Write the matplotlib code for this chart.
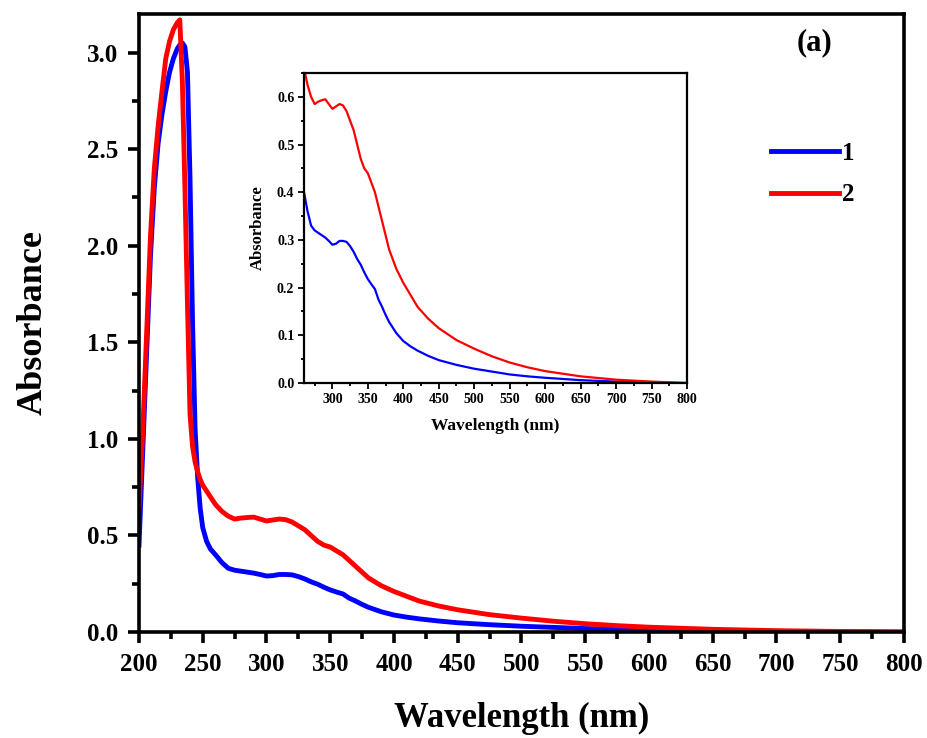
import numpy as np
import matplotlib
matplotlib.use('Agg')
import matplotlib.pyplot as plt
from matplotlib.ticker import MultipleLocator, FormatStrFormatter

# absorption spectra of samples 1 and 2
wavelength = [200, 203, 206, 209, 212, 215, 218, 221, 224, 227, 230, 232, 234,
              236, 238, 240, 242, 244, 246, 248, 250, 253, 256, 260, 265, 270,
              275, 280, 285, 290, 295, 300, 305, 310, 315, 320, 325, 330, 335,
              340, 345, 350, 355, 360, 365, 370, 375, 380, 390, 400, 410, 420,
              435, 450, 475, 500, 525, 550, 575, 600, 650, 700, 750, 800]

abs_1 = [0.45, 0.95, 1.45, 1.95, 2.30, 2.53, 2.68, 2.80, 2.90, 2.97, 3.02, 3.04, 3.05,
         3.03, 2.90, 2.35, 1.60, 1.05, 0.80, 0.64, 0.54, 0.47, 0.43, 0.40, 0.36, 0.33,
         0.32, 0.315, 0.31, 0.305, 0.298, 0.29, 0.292, 0.298, 0.298, 0.296, 0.287, 0.275, 0.26,
         0.248, 0.232, 0.218, 0.207, 0.197, 0.175, 0.16, 0.143, 0.128, 0.105, 0.088, 0.077, 0.068,
         0.057, 0.048, 0.038, 0.030, 0.024, 0.018, 0.014, 0.011, 0.006, 0.003, 0.001, 0.0]

abs_2 = [0.65, 1.05, 1.55, 2.05, 2.40, 2.62, 2.80, 2.97, 3.06, 3.12, 3.155, 3.17, 2.85,
         2.30, 1.70, 1.13, 0.96, 0.88, 0.83, 0.79, 0.76, 0.73, 0.70, 0.66, 0.625, 0.60,
         0.585, 0.59, 0.593, 0.595, 0.585, 0.575, 0.58, 0.585, 0.582, 0.57, 0.55, 0.53, 0.50,
         0.47, 0.45, 0.44, 0.42, 0.40, 0.37, 0.34, 0.31, 0.28, 0.24, 0.21, 0.185, 0.16,
         0.135, 0.115, 0.09, 0.072, 0.056, 0.043, 0.033, 0.025, 0.014, 0.007, 0.003, 0.0]

labels = ['1', '2']
colors = ['#0000ff', '#ff0000']

plt.rcParams['font.family'] = ['Liberation Serif', 'DejaVu Serif']
plt.rcParams['font.weight'] = 'bold'

fig = plt.figure(figsize=(9.28, 7.38), dpi=100)
ax = fig.add_axes([0.1498, 0.1436, 0.8242, 0.8374])

for y, c, lab in zip([abs_1, abs_2], colors, labels):
    ax.plot(wavelength, y, color=c, lw=3.5, label=lab, solid_joinstyle='round')

ax.set_xlim(200, 800)
ax.set_ylim(0, 3.2)
ax.xaxis.set_major_locator(MultipleLocator(50))
ax.xaxis.set_minor_locator(MultipleLocator(25))
ax.yaxis.set_major_locator(MultipleLocator(0.5))
ax.yaxis.set_minor_locator(MultipleLocator(0.25))
ax.yaxis.set_major_formatter(FormatStrFormatter('%.1f'))
for s in ax.spines.values():
    s.set_linewidth(2.6)
ax.tick_params(which='major', direction='out', length=8, width=2.6, labelsize=18, pad=7)
ax.tick_params(which='minor', direction='out', length=5, width=2.6)
ax.tick_params(top=False, right=False, which='both')
for t in ax.get_xticklabels() + ax.get_yticklabels():
    t.set_fontweight('bold')
ax.set_xlabel('Wavelength (nm)', fontsize=25, fontweight='bold', labelpad=19)
ax.set_ylabel('Absorbance', fontsize=26, fontweight='bold', labelpad=27)

ax.text(0.883, 0.953, '(a)', transform=ax.transAxes, fontsize=22,
        fontweight='bold', ha='center', va='center')

leg = ax.legend(loc='upper left', bbox_to_anchor=(0.797, 0.83), frameon=False,
                handlelength=2.7, handletextpad=0.15, labelspacing=0.75,
                prop={'size': 18, 'weight': 'bold'})
for line in leg.get_lines():
    line.set_linewidth(3.5)

# inset: zoom on the 260-800 nm region
ins = fig.add_axes([0.3276, 0.481, 0.4127, 0.420])
for y, c in zip([abs_1, abs_2], colors):
    ins.plot(wavelength, y, color=c, lw=1.6)
ins.set_xlim(260, 800)
ins.set_ylim(0, 0.65)
ins.xaxis.set_major_locator(MultipleLocator(50))
ins.xaxis.set_minor_locator(MultipleLocator(25))
ins.yaxis.set_major_locator(MultipleLocator(0.1))
ins.yaxis.set_minor_locator(MultipleLocator(0.05))
for s in ins.spines.values():
    s.set_linewidth(1.6)
ins.tick_params(which='major', direction='out', length=4, width=1.3, labelsize=10, pad=3)
ins.tick_params(which='minor', direction='out', length=2.5, width=1.3)
for t in ins.get_xticklabels() + ins.get_yticklabels():
    t.set_fontweight('bold')
ins.set_xlabel('Wavelength (nm)', fontsize=12.5, fontweight='bold', labelpad=9)
ins.set_ylabel('Absorbance', fontsize=12, fontweight='bold', labelpad=8)

fig.savefig('out.png', dpi=100)
